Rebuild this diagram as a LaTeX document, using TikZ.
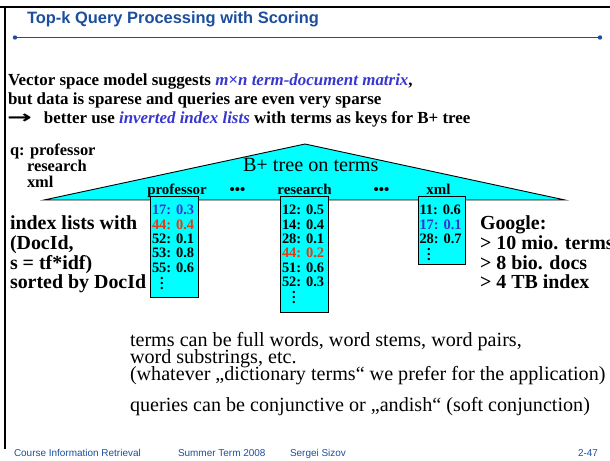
\documentclass[tikz,border=0pt]{standalone}
\usepackage{graphicx}
\usepackage{fontspec}
\setmainfont{Liberation Serif}
\setsansfont{Liberation Sans}
\newfontfamily\arrowfont{DejaVu Sans}
\definecolor{titleblue}{RGB}{28,78,158}
\definecolor{hlblue}{RGB}{55,55,205}
\definecolor{hlred}{RGB}{225,60,20}
\definecolor{treecyan}{RGB}{0,255,255}
\newcommand{\myvdots}{\vbox{\baselineskip=5pt\lineskiplimit=0pt\hbox{.}\hbox{.}\hbox{.}}}
\begin{document}
\begin{tikzpicture}[x=1bp,y=-1bp,
  t/.style={anchor=base west, inner sep=0pt, outer sep=0pt},
  titletxt/.style={t, font=\sffamily\bfseries\fontsize{16.5}{18}\selectfont, text=titleblue},
  bodytxt/.style={t, font=\bfseries\fontsize{17}{19}\selectfont},
  qtxt/.style={t, font=\bfseries\fontsize{16.5}{18}\selectfont},
  bigtxt/.style={t, font=\bfseries\fontsize{20}{22}\selectfont},
  lbl/.style={anchor=base, inner sep=0pt, outer sep=0pt, font=\bfseries\fontsize{15}{16}\selectfont},
  entry/.style={t, font=\bfseries\fontsize{14.5}{15}\selectfont},
  vdot/.style={anchor=south, inner sep=0pt, outer sep=0pt, font=\bfseries\fontsize{14.5}{15}\selectfont},
  plaintxt/.style={t, font=\fontsize{20.2}{22}\selectfont},
  foot/.style={t, font=\sffamily\fontsize{10}{12}\selectfont, text=titleblue},
  listbox/.style={draw=black, fill=treecyan, line width=0.9bp, anchor=north west, inner sep=0pt, minimum width=48bp},
  hlb/.style={text=hlblue},
  hlr/.style={text=hlred}
]
\useasboundingbox (0,0) rectangle (610,461);
% slide frame
\draw[line width=2.2bp] (0,6.7) -- (610,6.7);
\draw[line width=2.3bp] (4.8,5.6) -- (4.8,449);
% title
\node[titletxt] (title) at (27,24) {Top-k Query Processing with Scoring};
\draw[titleblue, line width=1.4bp] (15,37.5) -- (600,37.5);
\fill[titleblue] (15,37.5) circle (2.2) (600,37.5) circle (2.2);
% body text
\node[bodytxt] (l1) at (8,86) {Vector space model suggests {\itshape\color{hlblue}m×n term-document matrix},};
\node[bodytxt] (l2) at (8,105) {but data is sparese and queries are even very sparse};
\node[bodytxt] (l3) at (7,124) {{\arrowfont\bfseries\scalebox{1.75}[1.05]{→}}\hspace{12bp}better use {\itshape\color{hlblue}inverted index lists} with terms as keys for B+ tree};
% query
\node[qtxt] (q1) at (10,156) {q: professor};
\node[qtxt] (q2) at (27,172) {research};
\node[qtxt] (q3) at (27,188) {xml};
% tree
\filldraw[fill=treecyan, draw=black, line width=0.9bp] (44,200) -- (305,144) -- (565,200) -- cycle;
\node[t, font=\fontsize{20.3}{22}\selectfont] (tree) at (243,171.5) {B+ tree on terms};
\node[lbl] (lprof) at (177,195) {professor};
\node[lbl] (ld1) at (237.5,195) {•••};
\node[lbl] (lres) at (304.5,195) {research};
\node[lbl] (ld2) at (381.5,195) {•••};
\node[lbl] (lxml) at (438.5,195) {xml};
% index list boxes
\node[listbox, minimum height=101bp] (pbox) at (150,196) {};
\node[listbox, minimum height=116bp] (rbox) at (280,196) {};
\node[listbox, minimum height=68bp, minimum width=47bp] (xbox) at (418,196) {};
% professor entries
\node[entry, hlb] (p1) at (152,215) {17: 0.3};
\node[entry, hlr] (p2) at (152,229.3) {44: 0.4};
\node[entry] (p3) at (152,243.6) {52: 0.1};
\node[entry] (p4) at (152,257.9) {53: 0.8};
\node[entry] (p5) at (152,272.2) {55: 0.6};
\node[vdot] (p6) at (162,290) {\myvdots};
% research entries
\node[entry] (r1) at (282,215) {12: 0.5};
\node[entry] (r2) at (282,229.3) {14: 0.4};
\node[entry] (r3) at (282,243.6) {28: 0.1};
\node[entry, hlr] (r4) at (282,257.9) {44: 0.2};
\node[entry] (r5) at (282,272.2) {51: 0.6};
\node[entry] (r6) at (282,286.5) {52: 0.3};
\node[vdot] (r7) at (294,304) {\myvdots};
% xml entries
\node[entry] (x1) at (419.5,215) {11: 0.6};
\node[entry, hlb] (x2) at (419.5,229.3) {17: 0.1};
\node[entry] (x3) at (419.5,243.6) {28: 0.7};
\node[vdot] (x4) at (429,261) {\myvdots};
% left explanation
\node[bigtxt] (i1) at (10,230) {index lists with};
\node[bigtxt] (i2) at (10,250) {(DocId,};
\node[bigtxt] (i3) at (10,269.5) {s = tf*idf)};
\node[bigtxt] (i4) at (10,289) {sorted by DocId};
% Google
\node[bigtxt] (g1) at (480,230) {Google:};
\node[bigtxt] (g2) at (480,250) {> 10 mio. terms};
\node[bigtxt] (g3) at (480,269.5) {> 8 bio. docs};
\node[bigtxt] (g4) at (480,289) {> 4 TB index};
% lower text
\node[plaintxt] (n1) at (130,346) {terms can be full words, word stems, word pairs,};
\node[plaintxt] (n2) at (130,363) {word substrings, etc.};
\node[plaintxt] (n3) at (130,380) {(whatever „dictionary terms“ we prefer for the application)};
\node[plaintxt] (n4) at (130,411) {queries can be conjunctive or „andish“ (soft conjunction)};
% footer
\node[foot] (f1) at (14,456) {Course Information Retrieval};
\node[foot] (f2) at (178,456) {Summer Term 2008};
\node[foot] (f3) at (290,456) {Sergei Sizov};
\node[foot, anchor=base east] (f4) at (598,456) {2-47};
\end{tikzpicture}
\end{document}
